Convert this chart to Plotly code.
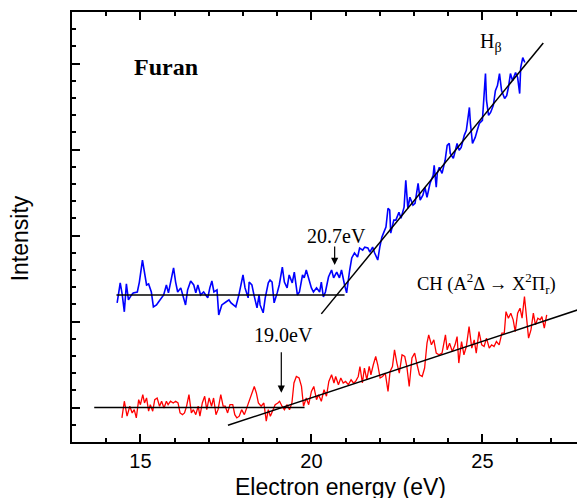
import plotly.graph_objects as go

# ---- data ----
blue_x = [14.32, 14.41, 14.47, 14.53, 14.59, 14.65, 14.74, 14.79, 14.91, 14.97, 15.06, 15.12, 15.18, 15.24,
          15.32, 15.38, 15.47, 15.53, 15.62, 15.68, 15.76, 15.82, 15.91, 15.97, 16.03, 16.09, 16.18, 16.26,
          16.32, 16.38, 16.47, 16.56, 16.62, 16.68, 16.76, 16.85, 16.97, 17.03, 17.09, 17.15, 17.24, 17.29,
          17.38, 17.50, 17.59, 17.65, 17.79, 17.88, 18.00, 18.06, 18.15, 18.18, 18.26, 18.32, 18.41, 18.47,
          18.50, 18.59, 18.65, 18.74, 18.79, 18.85, 18.91, 19.00, 19.06, 19.15, 19.21, 19.29, 19.35, 19.44,
          19.50, 19.59, 19.65, 19.74, 19.79, 19.85, 19.94, 20.00, 20.06, 20.15, 20.24, 20.29, 20.35, 20.41,
          20.50, 20.59, 20.65, 20.74, 20.82, 20.88, 20.97, 21.03, 21.12, 21.18, 21.26, 21.35, 21.41, 21.50,
          21.56, 21.65, 21.71, 21.79, 21.85, 21.94, 22.00, 22.06, 22.12, 22.18, 22.24, 22.29, 22.32, 22.41,
          22.47, 22.56, 22.62, 22.71, 22.76, 22.82, 22.88, 22.97, 23.03, 23.12, 23.18, 23.26, 23.32, 23.38,
          23.47, 23.56, 23.59, 23.65, 23.68, 23.74, 23.82, 23.91, 23.97, 24.03, 24.06, 24.15, 24.21, 24.26,
          24.32, 24.38, 24.47, 24.53, 24.62, 24.65, 24.71, 24.79, 24.85, 24.91, 25.00, 25.09, 25.12, 25.18,
          25.24, 25.32, 25.38, 25.44, 25.50, 25.56, 25.65, 25.71, 25.76, 25.82, 25.88, 25.97, 26.03, 26.09,
          26.12, 26.18, 26.24]
blue_y = [6.09, 7.25, 6.55, 5.57, 7.19, 6.26, 6.55, 6.67, 6.72, 7.30, 8.58, 7.88, 7.13, 7.19,
          6.72, 5.86, 5.97, 6.14, 6.38, 6.55, 7.13, 6.67, 7.54, 8.12, 7.30, 6.72, 6.96, 6.43,
          5.97, 6.84, 7.36, 7.13, 6.67, 7.13, 6.55, 6.72, 6.38, 6.96, 7.36, 6.72, 6.84, 5.39,
          5.97, 6.14, 6.26, 6.09, 5.86, 6.55, 7.71, 6.96, 6.38, 7.30, 7.13, 6.55, 5.80, 6.55,
          5.97, 5.51, 6.38, 7.25, 7.42, 7.30, 6.09, 6.67, 7.13, 8.17, 7.30, 6.96, 7.71, 7.25,
          7.88, 6.55, 6.72, 7.71, 7.54, 8.00, 7.30, 6.96, 6.72, 6.96, 6.72, 7.30, 6.43, 6.72,
          7.59, 8.00, 7.54, 7.88, 7.54, 8.00, 7.13, 6.67, 8.00, 8.70, 8.99, 8.75, 9.28, 9.16,
          9.33, 9.28, 9.04, 9.33, 8.99, 8.58, 9.33, 9.91, 10.20, 10.49, 11.59, 11.48, 10.14, 10.90,
          10.90, 11.36, 11.01, 11.65, 13.22, 11.59, 12.23, 11.77, 11.88, 13.04, 12.06, 12.35, 12.81, 12.23,
          13.04, 13.51, 14.09, 12.81, 13.62, 13.97, 13.62, 14.38, 15.25, 15.36, 14.78, 14.49, 14.96, 15.36,
          14.96, 15.13, 15.83, 16.12, 17.45, 16.52, 15.36, 15.71, 16.12, 16.52, 16.70, 19.42, 17.86, 16.99,
          17.16, 17.57, 18.43, 18.72, 19.42, 18.43, 17.97, 18.14, 18.61, 19.42, 19.01, 19.48, 19.19, 18.26,
          19.77, 20.35, 20.06]

red_x = [14.46, 14.53, 14.61, 14.69, 14.76, 14.82, 14.88, 14.95, 15.00, 15.07, 15.12, 15.18, 15.24, 15.29,
         15.36, 15.42, 15.49, 15.56, 15.62, 15.69, 15.76, 15.81, 15.88, 15.96, 16.03, 16.10, 16.16, 16.23,
         16.29, 16.35, 16.42, 16.49, 16.55, 16.62, 16.69, 16.74, 16.81, 16.88, 16.94, 17.01, 17.08, 17.14,
         17.21, 17.27, 17.35, 17.42, 17.48, 17.55, 17.62, 17.70, 17.76, 17.82, 17.89, 17.96, 18.04, 18.12,
         18.19, 18.26, 18.33, 18.39, 18.45, 18.53, 18.61, 18.68, 18.74, 18.80, 18.87, 18.94, 19.02, 19.07,
         19.14, 19.21, 19.29, 19.36, 19.43, 19.49, 19.56, 19.64, 19.71, 19.77, 19.85, 19.92, 20.00, 20.07,
         20.15, 20.21, 20.29, 20.37, 20.44, 20.51, 20.59, 20.66, 20.71, 20.79, 20.86, 20.93, 21.00, 21.08,
         21.16, 21.23, 21.29, 21.37, 21.42, 21.49, 21.55, 21.62, 21.69, 21.74, 21.81, 21.88, 21.94, 22.01,
         22.08, 22.16, 22.24, 22.30, 22.37, 22.43, 22.50, 22.57, 22.65, 22.73, 22.79, 22.86, 22.94, 23.02,
         23.09, 23.16, 23.24, 23.31, 23.38, 23.43, 23.51, 23.58, 23.65, 23.73, 23.82, 23.92, 23.97, 24.04,
         24.12, 24.20, 24.26, 24.31, 24.39, 24.46, 24.53, 24.61, 24.69, 24.76, 24.82, 24.90, 24.98, 25.05,
         25.12, 25.20, 25.27, 25.34, 25.41, 25.49, 25.57, 25.64, 25.69, 25.76, 25.83, 25.90, 25.96, 26.03,
         26.10, 26.16, 26.23, 26.29, 26.35, 26.42, 26.49, 26.55, 26.62, 26.69, 26.74, 26.81, 26.88]
red_y = [-0.60, 0.37, -0.50, 0.08, -0.31, -0.12, -0.60, 0.46, 0.17, 0.75, 0.27, 0.56, -0.21, 0.17,
         -0.21, 0.46, 0.56, 0.08, 0.37, -0.02, 0.37, 0.17, 0.37, 0.27, 0.37, 0.27, -0.31, -0.41,
         -0.31, 0.08, 0.75, -0.31, -0.12, -0.41, 0.08, -0.50, 0.27, 0.66, -0.12, 0.56, 0.08, 0.56,
         -0.41, -0.12, 0.75, 0.08, 0.08, -0.31, 0.17, 0.17, -0.41, -0.60, -0.50, -0.12, -0.41, 0.08,
         0.37, 0.85, 1.23, 0.85, 0.27, 0.08, 0.27, -0.79, -0.12, -0.50, -0.21, 0.17, 0.27, 0.37,
         0.08, -0.12, 0.17, -0.12, 0.27, 1.43, 1.81, 1.72, 1.23, 0.08, 0.56, 0.17, 0.94, 1.23,
         0.46, 0.75, 0.37, 1.04, 0.66, 1.52, 1.91, 1.43, 1.81, 1.33, 1.72, 1.43, 1.52, 1.33,
         1.62, 1.43, 1.52, 1.81, 2.39, 1.43, 2.30, 1.62, 2.39, 1.91, 2.49, 2.97, 2.49, 1.72,
         1.81, 2.01, 0.94, 2.10, 2.39, 3.36, 2.59, 2.01, 3.07, 2.97, 2.39, 1.23, 2.88, 3.17,
         2.49, 1.91, 1.81, 2.30, 3.75, 4.23, 3.65, 3.94, 3.17, 3.07, 3.17, 4.23, 3.36, 3.75,
         3.26, 3.65, 4.13, 2.59, 3.84, 3.07, 3.55, 4.71, 3.46, 3.94, 3.17, 4.42, 3.65, 3.55,
         4.04, 3.46, 3.65, 3.55, 3.84, 3.65, 4.33, 4.33, 5.58, 5.20, 5.49, 5.10, 4.42, 5.49,
         5.78, 5.20, 6.45, 5.20, 4.04, 4.52, 5.49, 4.81, 5.20, 5.10, 5.29, 4.62, 5.39]

# fitted guide lines (endpoints)
blue_base_x = [14.30, 20.97]
blue_base_y = [6.55, 6.55]
blue_fit_x = [20.29, 26.78]
blue_fit_y = [5.45, 21.20]
red_base_x = [13.65, 19.80]
red_base_y = [0.0, 0.0]
red_fit_x = [17.56, 27.88]
red_fit_y = [-1.03, 5.74]

SERIF = "Liberation Serif, Times New Roman, serif"
SANS = "Liberation Sans, Arial, sans-serif"

fig = go.Figure()
fig.add_trace(go.Scatter(x=blue_x, y=blue_y, mode="lines", line=dict(color="#0000ff", width=1.6)))
fig.add_trace(go.Scatter(x=red_x, y=red_y, mode="lines", line=dict(color="#ff0000", width=1.3)))
for gx, gy in [(blue_base_x, blue_base_y), (blue_fit_x, blue_fit_y),
               (red_base_x, red_base_y), (red_fit_x, red_fit_y)]:
    fig.add_trace(go.Scatter(x=gx, y=gy, mode="lines", line=dict(color="black", width=1.5)))

# arrows
fig.add_annotation(x=20.68, y=8.29, ax=20.68, ay=9.45, xref="x", yref="y", axref="x", ayref="y",
                   text="", showarrow=True, arrowhead=2, arrowsize=1.2, arrowwidth=1.2, arrowcolor="black")
fig.add_annotation(x=19.12, y=0.87, ax=19.12, ay=3.3, xref="x", yref="y", axref="x", ayref="y",
                   text="", showarrow=True, arrowhead=2, arrowsize=1.2, arrowwidth=1.2, arrowcolor="black")

# labels
fig.add_annotation(x=20.74, y=9.97, text="20.7eV", showarrow=False, xanchor="center", yanchor="middle",
                   font=dict(family=SERIF, size=20, color="black"))
fig.add_annotation(x=19.18, y=4.23, text="19.0eV", showarrow=False, xanchor="center", yanchor="middle",
                   font=dict(family=SERIF, size=20, color="black"))
fig.add_annotation(x=15.74, y=19.82, text="<b>Furan</b>", showarrow=False, xanchor="center", yanchor="middle",
                   font=dict(family=SERIF, size=24, color="black"))
fig.add_annotation(x=24.88, y=21.25, text="H<sub>β</sub>", showarrow=False, xanchor="left", yanchor="middle",
                   font=dict(family=SERIF, size=20, color="black"))
fig.add_annotation(x=23.03, y=7.19, text="CH (A<sup>2</sup>Δ → X<sup>2</sup>Π<sub>r</sub>)", showarrow=False,
                   xanchor="left", yanchor="middle", font=dict(family=SERIF, size=18.5, color="black"))

# axis titles
fig.add_annotation(x=0.524, y=-0.105, xref="paper", yref="paper", text="Electron energy (eV)",
                   xanchor="center", yanchor="middle",
                   showarrow=False, font=dict(family=SANS, size=23, color="black"))
fig.add_annotation(x=-0.101, y=0.474, xref="paper", yref="paper", text="Intensity", textangle=-90,
                   xanchor="center", yanchor="middle",
                   showarrow=False, font=dict(family=SANS, size=23, color="black"))

axis_common = dict(showline=True, linecolor="black", linewidth=2, mirror="ticks", ticks="inside",
                   tickcolor="black", tickwidth=1.5, ticklen=8, showgrid=False, zeroline=False,
                   automargin=False)

fig.update_xaxes(range=[13, 28], tickvals=[15, 20, 25], ticktext=["15", "20", "25"],
                 tickfont=dict(family=SANS, size=20, color="black"),
                 minor=dict(ticks="inside", ticklen=4, dtick=1, tick0=0, tickcolor="black", tickwidth=1.5),
                 **axis_common)
fig.update_yaxes(range=[-2, 23], tickvals=[0, 5, 10, 15, 20], showticklabels=False,
                 minor=dict(ticks="inside", ticklen=4, dtick=1, tick0=0, tickcolor="black", tickwidth=1.5),
                 **axis_common)

# the page body adds an 8px offset, so the figure is 8px smaller and margins are 8px tighter
fig.update_layout(width=577, height=490, margin=dict(l=64, r=0, t=4, b=56),
                  paper_bgcolor="white", plot_bgcolor="white", showlegend=False)

fig.write_html("out.html")
